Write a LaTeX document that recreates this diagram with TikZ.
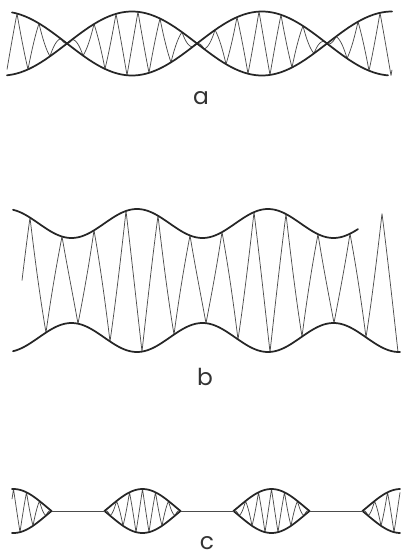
\documentclass[tikz,border=0pt]{standalone}
\usepackage{fontspec}
\newfontfamily\labfont{Poppins}
\begin{document}
\begin{tikzpicture}[x=0.75pt,y=-0.75pt,
  env/.style={line width=1.3pt, draw=black!85, line join=round, line cap=round},
  car/.style={line width=0.55pt, draw=black!70, line join=round},
  lab/.style={font=\labfont\fontsize{17.5}{20}\selectfont, text=black!80, inner sep=0pt, anchor=base},
  declare function={tri(\u)=4*abs(Mod(\u,1)-0.5)-1;}]
\useasboundingbox (0,0) rectangle (401,557);
\fill[white] (0,0) rectangle (401,557);

% ---------- a : 100% modulation ----------
\draw[car] plot[domain=7:392, samples=2000] (\x, {43.5 - 32*cos((\x-2)*1.384615)*tri((\x+5)/22)});
\draw[env] plot[domain=12:388, samples=200] (\x, {43.5 - 32*cos((\x-2)*1.384615)});
\draw[env] plot[domain=7:392, samples=200] (\x, {43.5 + 32*cos((\x-2)*1.384615)});
\node[lab] (la) at (201,104) {a};

% ---------- b : partial modulation ----------
\draw[car] plot[domain=22:398, samples=2000] (\x, {280.5 - (57 + 14.5*cos((\x-137)*2.748092))*tri((\x+2)/32)});
\draw[env] plot[domain=13:358, samples=200] (\x, {280.5 - (57 + 14.5*cos((\x-137)*2.748092))});
\draw[env] plot[domain=13:400, samples=200] (\x, {280.5 + (57 + 14.5*cos((\x-137)*2.748092))});
\node[lab] (lb) at (205,385) {b};

% ---------- c : overmodulation ----------
\foreach \xc/\xa/\xb in {13.5/12/51.5, 142.5/104.5/180.5, 271.5/233.5/309.5, 400.5/362.5/400} {
  \draw[car] plot[domain=\xa:\xb, samples=500] (\x, {511 - 4.8*(1+3.58*cos((\x-\xc)*2.790698))*tri((\x-\xc+65)/13)});
  \draw[env] plot[domain=\xa:\xb, samples=80] (\x, {511 - 4.8*(1+3.58*cos((\x-\xc)*2.790698))});
  \draw[env] plot[domain=\xa:\xb, samples=80] (\x, {511 + 4.8*(1+3.58*cos((\x-\xc)*2.790698))});
}
\draw[car] (51.5,511) -- (104.5,511);
\draw[car] (180.5,511) -- (233.5,511);
\draw[car] (309.5,511) -- (362.5,511);
\node[lab] (lc) at (207,549) {c};
\end{tikzpicture}
\end{document}
